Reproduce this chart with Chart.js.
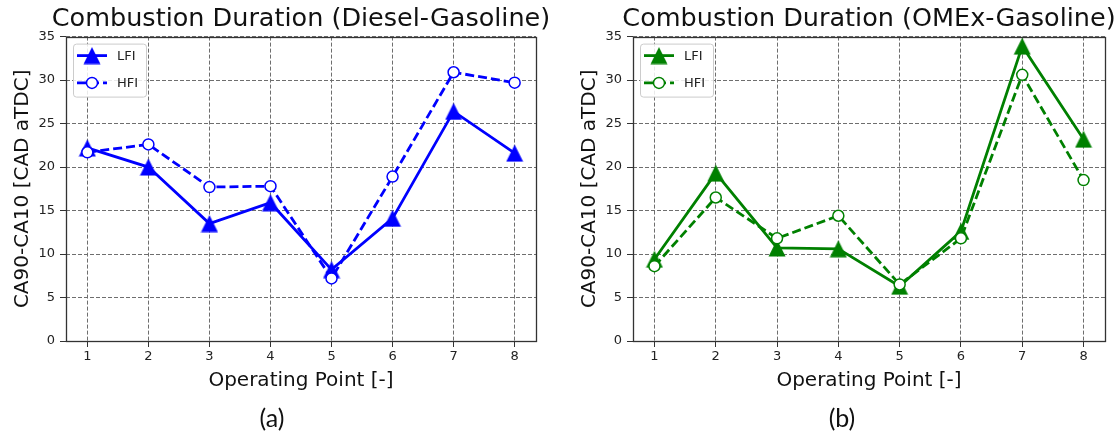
<!DOCTYPE html>
<html>
<head>
<meta charset="utf-8">
<script src="https://cdn.jsdelivr.net/npm/chart.js@4.4.1/dist/chart.umd.min.js"></script>
<style>
  html, body { margin: 0; padding: 0; background: #fff; }
  #wrap { position: relative; width: 1118px; height: 435px; overflow: hidden; background: #fff; }
  canvas { position: absolute; top: 0; }
  .cap { position: absolute; top: 402px; width: 100px; text-align: center;
         font-family: Lato, "Open Sans", sans-serif; font-size: 25px; line-height: 30px; color: #111; }
</style>
</head>
<body>
<div id="wrap">
  <canvas id="diesel" width="602" height="435" style="left:0px"></canvas>
  <canvas id="omex" width="604" height="435" style="left:567px"></canvas>
  <div class="cap" style="left:222px">(a)</div>
  <div class="cap" style="left:792px">(b)</div>
</div>
<script>
// Betriebspunkte
const points = [1, 2, 3, 4, 5, 6, 7, 8];
const yTicks = [0, 5, 10, 15, 20, 25, 30, 35];

// Brenndauer CA90-CA10
const dieselLFI = [22.2, 20.0, 13.5, 15.9, 8.2, 14.1, 26.4, 21.6];
const dieselHFI = [21.7, 22.6, 17.7, 17.8, 7.2, 18.9, 30.9, 29.7];
const omexLFI = [9.4, 19.3, 10.7, 10.6, 6.3, 12.6, 33.9, 23.2];
const omexHFI = [8.6, 16.5, 11.8, 14.4, 6.5, 11.8, 30.6, 18.5];

const FONT = '"DejaVu Sans", Verdana, sans-serif';
const AXIS_W = 66;

// gefülltes Dreieck als Marker (wie matplotlib '^')
function triangle(color){
  const c = document.createElement('canvas');
  c.width = 18; c.height = 18;
  const g = c.getContext('2d');
  g.fillStyle = color;
  g.beginPath();
  g.moveTo(9, 0.5); g.lineTo(17.5, 17.5); g.lineTo(0.5, 17.5);
  g.closePath(); g.fill();
  return c;
}

const xy = arr => arr.map((v, i) => ({x: points[i], y: v}));

// Rahmen um die Achsen
const frame = {
  id: 'frame',
  beforeDatasetsDraw(chart){
    const {ctx, chartArea: a} = chart;
    ctx.save();
    ctx.strokeStyle = '#333';
    ctx.lineWidth = 1.3;
    ctx.strokeRect(Math.round(a.left) + 0.5, Math.round(a.top) + 0.5,
                   Math.round(a.right - a.left), Math.round(a.bottom - a.top));
    ctx.restore();
  }
};

// Legende oben links im Plot
const legendBox = {
  id: 'legendBox',
  afterDatasetsDraw(chart){
    const {ctx, chartArea: a} = chart;
    const x0 = a.left + 7, y0 = a.top + 7;
    ctx.save();
    ctx.fillStyle = 'rgba(255,255,255,0.85)';
    ctx.strokeStyle = '#ccc';
    ctx.lineWidth = 1;
    ctx.beginPath();
    ctx.roundRect(x0 + 0.5, y0 + 0.5, 73, 53, 3);
    ctx.fill(); ctx.stroke();
    chart.data.datasets.forEach((ds, i) => {
      const y = y0 + 12 + i * 27.3;
      ctx.strokeStyle = ds.borderColor;
      ctx.lineWidth = ds.borderWidth;
      ctx.setLineDash(ds.borderDash || []);
      ctx.beginPath();
      ctx.moveTo(x0 + 4, y); ctx.lineTo(x0 + 34, y);
      ctx.stroke();
      ctx.setLineDash([]);
      const mx = x0 + 19;
      if (ds.pointStyle instanceof HTMLCanvasElement) {
        ctx.drawImage(ds.pointStyle, mx - 9, y - 9);
      } else {
        ctx.fillStyle = ds.pointBackgroundColor;
        ctx.strokeStyle = ds.pointBorderColor;
        ctx.lineWidth = ds.pointBorderWidth;
        ctx.beginPath();
        ctx.arc(mx, y, ds.pointRadius, 0, Math.PI * 2);
        ctx.fill(); ctx.stroke();
      }
      ctx.fillStyle = '#222';
      ctx.font = '13px ' + FONT;
      ctx.textBaseline = 'middle';
      ctx.fillText(ds.label, x0 + 44, y + 1);
    });
    ctx.restore();
  }
};

function makeChart(id, title, lfi, hfi, color, plotW){
  const canvas = document.getElementById(id);
  const axisOpts = {
    border: {display: false, dash: [4, 2]},
    grid: {color: '#6e6e6e', lineWidth: 1, tickLength: 6,
           tickColor: '#333', tickWidth: 1, tickBorderDash: []},
    ticks: {color: '#222', font: {family: FONT, size: 13}}
  };
  return new Chart(canvas.getContext('2d'), {
    type: 'line',
    data: {
      datasets: [
        {
          label: 'LFI',
          data: xy(lfi),
          borderColor: color,
          borderWidth: 2.8,
          pointStyle: triangle(color),
          pointRadius: 9,
          order: 1,
          clip: false
        },
        {
          label: 'HFI',
          data: xy(hfi),
          borderColor: color,
          borderWidth: 2.8,
          borderDash: [9, 4],
          pointStyle: 'circle',
          pointRadius: 5.5,
          pointBorderWidth: 1.5,
          pointBorderColor: color,
          pointBackgroundColor: '#fff',
          order: 0,
          clip: false
        }
      ]
    },
    options: {
      responsive: false,
      animation: false,
      devicePixelRatio: 1,
      layout: {padding: {left: 0, right: 0, top: 0, bottom: 40}},
      plugins: {
        legend: {display: false},
        tooltip: {enabled: false},
        title: {
          display: true,
          text: title,
          color: '#111',
          font: {family: FONT, size: 25.5, weight: 'normal'},
          padding: {top: 4, bottom: 2}
        }
      },
      scales: {
        x: {
          ...axisOpts,
          type: 'linear',
          min: 0.65, max: 8.35,
          afterBuildTicks: s => { s.ticks = points.map(v => ({value: v})); },
          afterFit: s => { s.height = 54; },
          ticks: {...axisOpts.ticks, padding: 2},
          title: {display: true, text: 'Operating Point [-]', color: '#111',
                  font: {family: FONT, size: 20}, padding: {top: 0, bottom: 2.5}}
        },
        y: {
          ...axisOpts,
          min: 0, max: 35,
          afterBuildTicks: s => { s.ticks = yTicks.map(v => ({value: v})); },
          afterFit: s => { s.width = AXIS_W; },
          ticks: {...axisOpts.ticks, padding: 5},
          title: {display: true, text: 'CA90-CA10 [CAD aTDC]', color: '#111',
                  font: {family: FONT, size: 20}, padding: {top: 11, bottom: 0}}
        },
        // leere Achse rechts, damit der Plot mittig unter dem Titel sitzt
        pad: {
          type: 'linear',
          position: 'right',
          border: {display: false},
          grid: {display: false},
          ticks: {display: false},
          afterFit: s => { s.width = canvas.width - AXIS_W - plotW; }
        }
      }
    },
    plugins: [frame, legendBox]
  });
}

makeChart('diesel', 'Combustion Duration (Diesel-Gasoline)', dieselLFI, dieselHFI, '#0000ff', 470);
makeChart('omex', 'Combustion Duration (OMEx-Gasoline)', omexLFI, omexHFI, '#008000', 472);
</script>
</body>
</html>
